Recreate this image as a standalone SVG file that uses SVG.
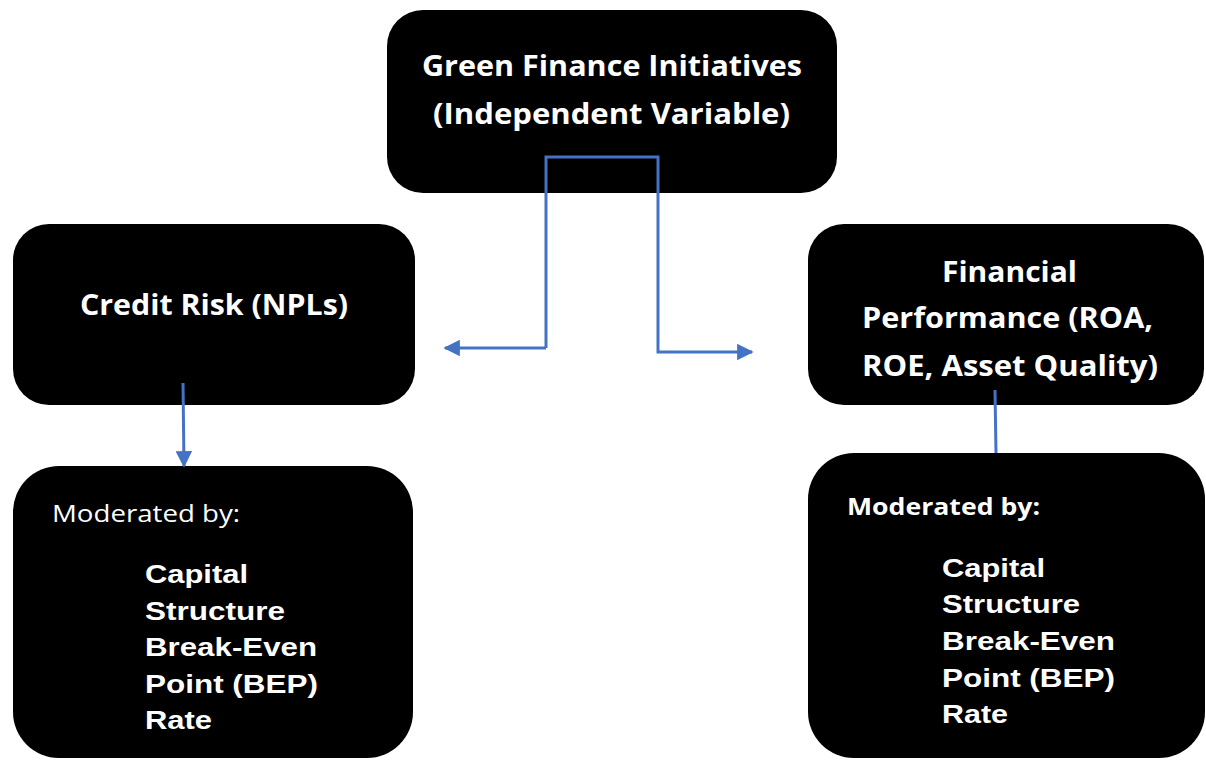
<svg xmlns="http://www.w3.org/2000/svg" width="1206" height="760" viewBox="0 0 1206 760">
  <style>
    .box { fill: #000000; }
    .head { font-family: "Open Sans", "Liberation Sans", sans-serif; font-weight: 700; font-size: 29px; fill: #ffffff; }
    .mod { font-family: "Open Sans", "Liberation Sans", sans-serif; font-size: 24px; fill: #ffffff; }
    .modb { font-family: "Open Sans", "Liberation Sans", sans-serif; font-weight: 700; font-size: 24px; fill: #ffffff; }
    .item { font-family: "Liberation Sans", Arial, sans-serif; font-weight: 700; font-size: 26px; fill: #ffffff; }
    .link { fill: none; stroke: #4472C4; stroke-width: 3; }
  </style>
  <defs>
    <marker id="arrow" viewBox="0 0 10 10" refX="9" refY="5" markerWidth="5.5" markerHeight="5.5" orient="auto" markerUnits="strokeWidth">
      <path d="M0,0 L10,5 L0,10 Z" fill="#4472C4"/>
    </marker>
  </defs>
  <rect width="1206" height="760" fill="#ffffff"/>

  <!-- Independent variable -->
  <g id="green-finance">
    <rect class="box" x="387" y="10" width="450" height="183" rx="36"/>
    <text class="head" x="422" y="76" textLength="380" lengthAdjust="spacingAndGlyphs">Green Finance Initiatives</text>
    <text class="head" x="433" y="124" textLength="357" lengthAdjust="spacingAndGlyphs">(Independent Variable)</text>
  </g>

  <!-- Credit risk -->
  <g id="credit-risk">
    <rect class="box" x="13" y="224" width="402" height="181" rx="36"/>
    <text class="head" x="80" y="315" font-size="31" textLength="268" lengthAdjust="spacingAndGlyphs">Credit Risk (NPLs)</text>
  </g>

  <!-- Financial performance -->
  <g id="financial-performance">
    <rect class="box" x="808" y="224" width="396" height="181" rx="36"/>
    <text class="head" x="942" y="282" textLength="135" lengthAdjust="spacingAndGlyphs">Financial</text>
    <text class="head" x="862" y="328" textLength="291" lengthAdjust="spacingAndGlyphs">Performance (ROA,</text>
    <text class="head" x="862" y="376" textLength="296" lengthAdjust="spacingAndGlyphs">ROE, Asset Quality)</text>
  </g>

  <!-- Moderators, credit risk side -->
  <g id="moderators-left">
    <rect class="box" x="13" y="466" width="400" height="292" rx="46"/>
    <text class="mod" x="52" y="522" textLength="188" lengthAdjust="spacingAndGlyphs">Moderated by:</text>
    <text class="item" x="145" y="583" textLength="103" lengthAdjust="spacingAndGlyphs">Capital</text>
    <text class="item" x="145" y="620" textLength="140" lengthAdjust="spacingAndGlyphs">Structure</text>
    <text class="item" x="145" y="656" textLength="172" lengthAdjust="spacingAndGlyphs">Break-Even</text>
    <text class="item" x="145" y="693" textLength="173" lengthAdjust="spacingAndGlyphs">Point (BEP)</text>
    <text class="item" x="145" y="729" textLength="67" lengthAdjust="spacingAndGlyphs">Rate</text>
  </g>

  <!-- Moderators, performance side -->
  <g id="moderators-right">
    <rect class="box" x="808" y="453" width="397" height="305" rx="46"/>
    <text class="modb" x="847" y="515" textLength="193" lengthAdjust="spacingAndGlyphs">Moderated by:</text>
    <text class="item" x="942" y="577" textLength="103" lengthAdjust="spacingAndGlyphs">Capital</text>
    <text class="item" x="942" y="613" textLength="138" lengthAdjust="spacingAndGlyphs">Structure</text>
    <text class="item" x="942" y="650" textLength="173" lengthAdjust="spacingAndGlyphs">Break-Even</text>
    <text class="item" x="942" y="687" textLength="173" lengthAdjust="spacingAndGlyphs">Point (BEP)</text>
    <text class="item" x="942" y="723" textLength="66" lengthAdjust="spacingAndGlyphs">Rate</text>
  </g>

  <!-- Connectors -->
  <g id="connectors">
    <path class="link" d="M546,348 L546,157 L658,157 L658,352 L752,352" marker-end="url(#arrow)"/>
    <path class="link" d="M546,348 L445,348" marker-end="url(#arrow)"/>
    <path class="link" d="M183,383 L184,466" marker-end="url(#arrow)"/>
    <path class="link" d="M995,390 L996,453"/>
  </g>
</svg>
